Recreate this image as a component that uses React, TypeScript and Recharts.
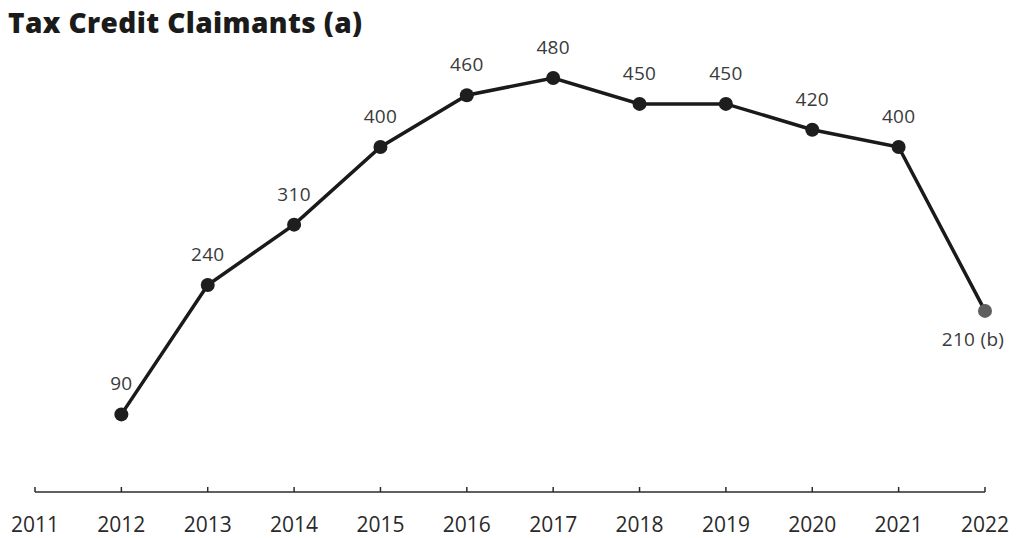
import { LineChart, Line, XAxis, YAxis, LabelList } from 'recharts'

const years = ['2011', '2012', '2013', '2014', '2015', '2016', '2017', '2018', '2019', '2020', '2021', '2022']
const claimants: (number | null)[] = [null, 90, 240, 310, 400, 460, 480, 450, 450, 420, 400, 210]
const pointLabels = ['', '90', '240', '310', '400', '460', '480', '450', '450', '420', '400', '210 (b)']

const data = years.map((year, i) => ({ year, claimants: claimants[i], label: pointLabels[i] }))

const FONT = '"Open Sans", "DejaVu Sans", sans-serif'

function YearTick({ x, y, payload }: any) {
  return (
    <g>
      <line x1={x} x2={x} y1={y - 5} y2={y} stroke="#2b2b2b" strokeWidth={1.5} />
      <text x={x} y={y + 40} textAnchor="middle" fill="#2a2a2a" fontSize={21} fontFamily={FONT}>
        {payload.value}
      </text>
    </g>
  )
}

function Dot({ cx, cy, index }: any) {
  if (cx == null || cy == null) return null
  const last = index === years.length - 1
  return <circle cx={cx} cy={cy} r={7} fill={last ? '#5f5f5f' : '#1e1e1e'} />
}

// last label sits under its point, nudged left so it stays inside the frame
function PointLabel({ x, y, value, index }: any) {
  if (!value) return null
  const below = index === years.length - 1
  return (
    <text
      x={below ? x - 12 : x}
      y={below ? y + 35 : y - 24}
      textAnchor="middle"
      fill="#3a3a3a"
      fontSize={19}
      fontFamily={FONT}
      letterSpacing={0.3}
    >
      {value}
    </text>
  )
}

export default function App() {
  return (
    <div style={{ position: 'absolute', left: 0, top: 0, width: 1019, height: 538, background: '#fff' }}>
      <div
        style={{
          position: 'absolute',
          left: 8,
          top: 3,
          fontFamily: FONT,
          fontWeight: 800,
          fontSize: 28,
          color: '#1b1b1b',
          letterSpacing: 0.4,
        }}
      >
        Tax Credit Claimants (a)
      </div>
      <LineChart width={1019} height={538} data={data} margin={{ top: 78, right: 34, bottom: 16, left: 35 }}>
        <XAxis
          dataKey="year"
          scale="point"
          height={30}
          padding={{ left: 0, right: 0 }}
          axisLine={{ stroke: '#2b2b2b', strokeWidth: 1.5 }}
          tickLine={false}
          tickSize={0}
          tickMargin={0}
          tick={<YearTick />}
          interval={0}
        />
        <YAxis hide domain={[0, 480]} />
        <Line
          type="linear"
          dataKey="claimants"
          stroke="#1a1a1a"
          strokeWidth={3.5}
          dot={<Dot />}
          activeDot={false}
          isAnimationActive={false}
        >
          <LabelList dataKey="label" content={<PointLabel />} />
        </Line>
      </LineChart>
    </div>
  )
}
